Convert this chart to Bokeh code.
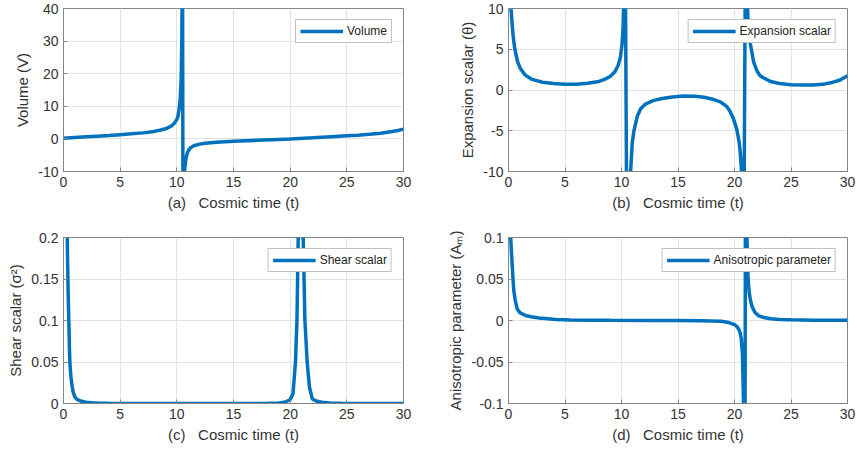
from bokeh.plotting import figure
from bokeh.layouts import row, column
from bokeh.models import Range1d, FixedTicker, Legend, LegendItem
from bokeh.embed import file_html
from bokeh.resources import INLINE

# ---------------- data ----------------
x_ticks = [0, 5, 10, 15, 20, 25, 30]

t_vol = [0, 1, 2, 3, 4, 5, 6, 7, 8, 8.5, 9, 9.5, 9.8, 10.0, 10.1, 10.2, 10.3, 10.38, 10.44, 10.5,
         10.56, 10.6, 10.65, 10.7, 10.8, 10.9, 11.0, 11.2, 11.5, 12.0, 12.5, 13.5, 15, 17, 19, 20,
         22, 24, 25, 26, 27, 28, 29, 29.5, 30]
volume = [0.2, 0.45, 0.65, 0.85, 1.05, 1.3, 1.55, 1.85, 2.3, 2.65, 3.1, 3.9, 4.9, 6.0, 7.0, 9.0, 12.5, 18, 30, 60,
          -60, -18, -12, -9, -6.2, -4.6, -3.7, -2.7, -2.1, -1.6, -1.35, -1.05, -0.75, -0.45, -0.15, 0,
          0.35, 0.75, 0.95, 1.15, 1.4, 1.75, 2.25, 2.6, 3.0]

t_exp = [0.05, 0.12, 0.2, 0.3, 0.4, 0.5, 0.62, 0.8, 1.06, 1.5, 2.1, 3, 4, 5, 6, 7, 8, 8.5, 9, 9.4,
         9.7, 9.9, 10.05, 10.15, 10.22, 10.3, 10.5, 10.6, 10.7, 10.8, 10.95, 11.1, 11.4, 11.7, 12.1,
         12.8, 13.6, 14.5, 15.5, 16.5, 17.3, 18.0, 18.8, 19.3, 19.6, 19.9, 20.2, 20.4, 20.5, 20.6,
         20.7, 20.8, 21.0, 21.1, 21.2, 21.3, 21.4, 21.7, 22.0, 22.3, 23.2, 24, 25, 26.1, 27, 28,
         28.5, 29.3, 30]
expansion = [40, 17, 10.5, 8.5, 6.8, 5.6, 4.6, 3.5, 2.6, 1.8, 1.3, 0.95, 0.8, 0.7, 0.72, 0.82, 1.05, 1.3, 1.65, 2.2,
             3.0, 4.0, 5.6, 7.8, 11, 25, -25, -15, -12, -10.2, -6.5, -5, -3.2, -2.3, -1.75,
             -1.3, -1.05, -0.85, -0.75, -0.78, -0.88, -1.1, -1.5, -2.0, -2.6, -3.5, -4.8, -6.3, -7.5, -9.5,
             -13, -25, 25, 12, 8.5, 6.8, 5.7, 3.4, 2.3, 1.7, 1.05, 0.8, 0.65, 0.6, 0.62, 0.75,
             0.88, 1.2, 1.75]

t_sh = [0.15, 0.25, 0.33, 0.4, 0.47, 0.52, 0.56, 0.61, 0.65, 0.7, 0.75, 0.85, 1.0, 1.2, 1.5, 2.0, 2.5,
        3.0, 4, 5, 7, 10, 13, 16, 18, 19, 19.5, 20.0, 20.25, 20.47, 20.6, 20.71, 20.8, 20.9, 21.0,
        21.08, 21.15, 21.3, 21.5, 21.7, 21.95, 22.3, 22.8, 23.5, 24.5, 26, 28, 30]
shear = [1.0, 0.35, 0.2, 0.14, 0.1, 0.068, 0.05, 0.04, 0.033, 0.027, 0.022, 0.014, 0.008, 0.005, 0.003,
         0.0015, 0.0008, 0.0005, 0.0002, 0.0001, 0.00003, 0, 0, 0, 0.0002, 0.0006, 0.0015, 0.0045, 0.012,
         0.05, 0.1, 0.2, 0.4, 1.5, 1.5, 0.45, 0.2, 0.1, 0.05, 0.02, 0.0056, 0.003, 0.0015, 0.0007,
         0.0003, 0.0001, 0.00003, 0]

t_an = [0.1, 0.18, 0.25, 0.33, 0.4, 0.47, 0.6, 0.77, 1.0, 1.5, 2.0, 2.7, 3.5, 4.2, 5.5, 7, 9, 12, 15,
        17, 18.8, 19.5, 20.0, 20.2, 20.4, 20.5, 20.6, 20.7, 20.8, 20.9, 21.0, 21.1, 21.2, 21.3, 21.4,
        21.55, 21.8, 22.1, 22.6, 23.2, 24, 25, 27, 30]
aniso = [0.3, 0.105, 0.085, 0.066, 0.05, 0.036, 0.024, 0.014, 0.0095, 0.006, 0.0045, 0.003, 0.002, 0.0012,
         0.0007, 0.0004, 0.0002, 0.0001, 0, -0.0003, -0.001, -0.0025, -0.005, -0.007, -0.011, -0.015,
         -0.022, -0.04, -0.1, -0.4, 0.4, 0.1, 0.05, 0.034, 0.025, 0.017, 0.01, 0.006, 0.0035, 0.002,
         0.0012, 0.0008, 0.0004, 0.0002]

# ---------------- styling ----------------
FONT = "Liberation Sans"
BLUE = "#0072BD"
FRAME = "#858585"
TXT = "#333333"


def make_panel(t, y, yr, yticks, ylabels, ylabel, xlabel, legend_label,
               width, left, right, top, bottom, ystandoff):
    p = figure(width=width, height=227, output_backend="svg", toolbar_location=None,
               x_range=Range1d(0, 30), y_range=Range1d(*yr),
               min_border_left=left, min_border_right=right,
               min_border_top=top, min_border_bottom=bottom,
               background_fill_color="white", border_fill_color="white")
    p.outline_line_color = FRAME
    p.outline_line_width = 1
    p.outline_line_alpha = 1

    p.grid.grid_line_color = "#e3e3e3"
    p.grid.grid_line_width = 1

    p.xaxis.ticker = FixedTicker(ticks=x_ticks)
    p.yaxis.ticker = FixedTicker(ticks=yticks)
    p.yaxis.major_label_overrides = {k: v for k, v in zip(yticks, ylabels)}
    p.xgrid.ticker = FixedTicker(ticks=x_ticks)
    p.ygrid.ticker = FixedTicker(ticks=yticks)

    for ax in (p.xaxis[0], p.yaxis[0]):
        ax.axis_line_color = FRAME
        ax.major_tick_line_color = FRAME
        ax.major_tick_in = 4
        ax.major_tick_out = 0
        ax.minor_tick_line_color = None
        ax.major_label_text_font = FONT
        ax.major_label_text_font_size = "14px"
        ax.major_label_text_color = TXT
        ax.axis_label_text_font = FONT
        ax.axis_label_text_font_size = "15px"
        ax.axis_label_text_font_style = "normal"
        ax.axis_label_text_color = TXT
    p.xaxis.major_label_standoff = 5
    p.xaxis.axis_label_standoff = 4
    p.yaxis.major_label_standoff = 5
    p.yaxis.axis_label_standoff = ystandoff
    p.xaxis.axis_label = xlabel
    p.yaxis.axis_label = ylabel

    r = p.line(t, y, line_color=BLUE, line_width=3.5)

    leg = Legend(items=[LegendItem(label=legend_label, renderers=[r])],
                 location="top_right", margin=11, padding=4, spacing=0,
                 glyph_width=43, glyph_height=12, label_height=12, label_standoff=4,
                 border_line_color=FRAME, border_line_width=1,
                 background_fill_color="white", background_fill_alpha=1,
                 label_text_font=FONT, label_text_font_size="12px", label_text_color="#222222")
    p.add_layout(leg)
    return p


NB = "\u00a0\u00a0\u00a0"
pa = make_panel(t_vol, volume, (-10, 40), [-10, 0, 10, 20, 30, 40],
                ["-10", "0", "10", "20", "30", "40"],
                "Volume (V)", "(a)" + NB + "Cosmic time (t)", "Volume",
                428, 63, 25, 8, 56, 4)
pb = make_panel(t_exp, expansion, (-10, 10), [-10, -5, 0, 5, 10],
                ["-10", "-5", "0", "5", "10"],
                "Expansion scalar (θ)", "(b)" + NB + "Cosmic time (t)", "Expansion scalar",
                429, 80, 10, 8, 56, 4)
pc = make_panel(t_sh, shear, (0, 0.2), [0, 0.05, 0.1, 0.15, 0.2],
                ["0", "0.05", "0.1", "0.15", "0.2"],
                "Shear scalar (σ²)", "(c)" + NB + "Cosmic time (t)", "Shear scalar",
                428, 63, 25, 10, 51, 4)
pd = make_panel(t_an, aniso, (-0.1, 0.1), [-0.1, -0.05, 0, 0.05, 0.1],
                ["-0.1", "-0.05", "0", "0.05", "0.1"],
                "Anisotropic parameter (Aₘ)", "(d)" + NB + "Cosmic time (t)", "Anisotropic parameter",
                429, 80, 10, 10, 51, 5)

layout = column(row(pa, pb), row(pc, pd))
open("out.html", "w").write(file_html(layout, INLINE))
